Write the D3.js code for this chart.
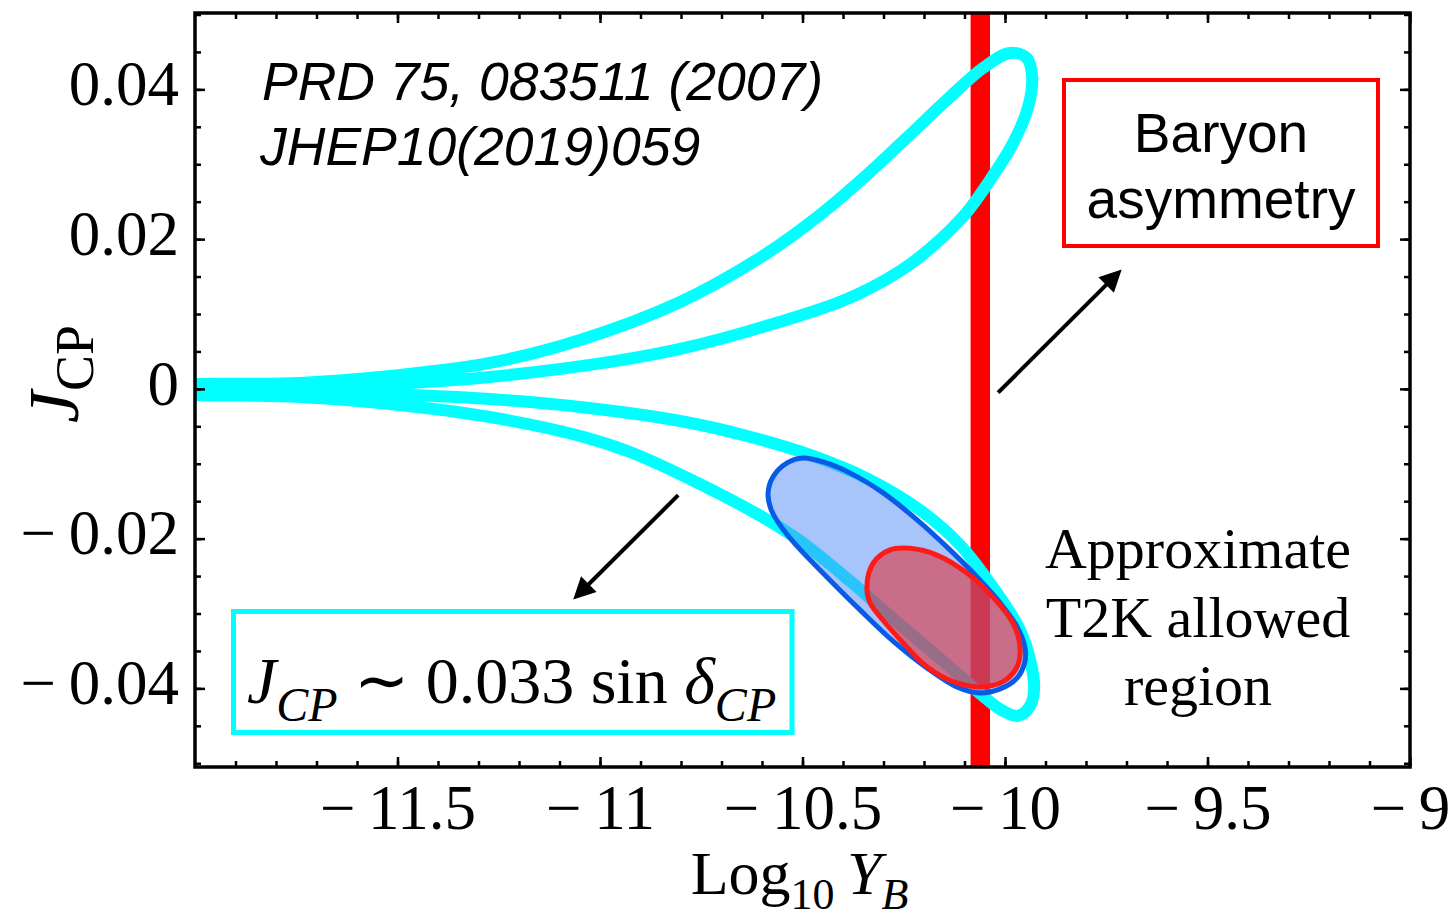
<!DOCTYPE html>
<html><head><meta charset="utf-8">
<script src="https://cdn.jsdelivr.net/npm/d3@7"></script>
<style>html,body{margin:0;padding:0;background:#fff;} svg{display:block;}</style>
</head><body><svg id="chart" width="1448" height="918"></svg>
<script>
// ---------------- data ----------------
const xMajorTicks = [-11.5, -11, -10.5, -10, -9.5, -9];
const xTickLabels = ["\u2212\u200911.5", "\u2212\u200911", "\u2212\u200910.5", "\u2212\u200910", "\u2212\u20099.5", "\u2212\u20099"];
const yMajorTicks = [-0.04, -0.02, 0, 0.02, 0.04];
const yTickLabels = ["\u2212\u20090.04", "\u2212\u20090.02", "0", "0.02", "0.04"];

// cyan contour (log10 Y_B, J_CP), upper lobe (J>0)
const upperLobe = [
  [-12.25, 0.0003], [-12.000, 0.00065], [-11.741, 0.00079], [-11.519, 0.00172], [-11.272, 0.00346],
  [-11.049, 0.00653], [-10.802, 0.01161], [-10.598, 0.01775], [-10.457, 0.02323], [-10.351, 0.02810],
  [-10.247, 0.03331], [-10.136, 0.03898], [-10.054, 0.04286], [-9.988, 0.04486], [-9.946, 0.04419],
  [-9.933, 0.04165], [-9.943, 0.03764], [-9.980, 0.03283], [-10.037, 0.02789], [-10.094, 0.02361],
  [-10.178, 0.01907], [-10.259, 0.01575], [-10.390, 0.01201], [-10.598, 0.00827], [-10.802, 0.00533],
  [-10.975, 0.00360], [-11.272, 0.00159], [-11.519, 0.00065], [-11.741, 0.00025], [-12.000, 0.00012]
];
// cyan contour, lower lobe (J<0)
const lowerLobe = [
  [-12.25, -0.0003], [-12.000, -0.00008], [-11.741, -0.00028], [-11.519, -0.00068], [-11.272, -0.00135],
  [-11.049, -0.00242], [-10.802, -0.00429], [-10.637, -0.00629], [-10.474, -0.00896], [-10.333, -0.01217],
  [-10.210, -0.01618], [-10.111, -0.02085], [-10.025, -0.02686], [-9.963, -0.03220], [-9.938, -0.03621],
  [-9.928, -0.03994], [-9.938, -0.04234], [-9.968, -0.04368], [-10.005, -0.04301], [-10.049, -0.04127],
  [-10.111, -0.03834], [-10.168, -0.03567], [-10.284, -0.03033], [-10.383, -0.02565], [-10.506, -0.02031],
  [-10.612, -0.01671], [-10.778, -0.01204], [-10.926, -0.00843], [-11.049, -0.00629], [-11.272, -0.00376],
  [-11.519, -0.00202], [-11.741, -0.00108], [-12.000, -0.00081]
];
// blue region outline
const blueRegion = [
  [-10.585, -0.01389], [-10.573, -0.01176], [-10.538, -0.00989], [-10.499, -0.00923], [-10.449, -0.00976],
  [-10.383, -0.01122], [-10.301, -0.01389], [-10.217, -0.01750], [-10.136, -0.02150], [-10.069, -0.02511],
  [-10.012, -0.02858], [-9.970, -0.03178], [-9.951, -0.03446], [-9.951, -0.03646], [-9.970, -0.03860],
  [-10.012, -0.04007], [-10.062, -0.04061], [-10.119, -0.03981], [-10.193, -0.03727], [-10.277, -0.03366],
  [-10.358, -0.02952], [-10.440, -0.02511], [-10.514, -0.02098], [-10.556, -0.01817], [-10.578, -0.01604]
];
// approximate T2K allowed region outline (red)
const t2kRegion = [
  [-10.341, -0.0265], [-10.326, -0.0233], [-10.284, -0.0215], [-10.235, -0.0213], [-10.168, -0.0222],
  [-10.094, -0.0246], [-10.030, -0.0278], [-9.980, -0.0313], [-9.963, -0.0345], [-9.970, -0.0371],
  [-10.005, -0.0391], [-10.062, -0.0398], [-10.128, -0.0391], [-10.193, -0.0371], [-10.252, -0.0339],
  [-10.301, -0.0309], [-10.333, -0.0286]
];
// observed baryon asymmetry band (log10 Y_B)
const baryonBand = [-10.085, -10.037];
// annotation arrows [from, to] in data units
const arrowBaryon = [[-10.017, -0.0005], [-9.709, 0.0161]];
const arrowJcp = [[-10.807, -0.0142], [-11.069, -0.0283]];

// ---------------- layout ----------------
const M = {left: 195, right: 1410, top: 13, bottom: 767};
const serif = "'Liberation Serif','Times New Roman',serif";
const sans = "'Liberation Sans',Arial,Helvetica,sans-serif";

const x = d3.scaleLinear().domain([-12, -9]).range([M.left, M.right]);
const y = d3.scaleLinear().domain([-0.0505, 0.0502]).range([M.bottom, M.top]);

const svg = d3.select('#chart');
const defs = svg.append('defs');
defs.append('clipPath').attr('id', 'clip').append('rect')
  .attr('x', M.left).attr('y', M.top).attr('width', M.right - M.left).attr('height', M.bottom - M.top);
defs.append('marker').attr('id', 'ah').attr('viewBox', '0 0 10 10')
  .attr('markerUnits', 'userSpaceOnUse').attr('markerWidth', 26).attr('markerHeight', 22)
  .attr('refX', 6.2).attr('refY', 5).attr('orient', 'auto')
  .append('path').attr('d', 'M0,0 L10,5 L0,10 z').attr('fill', '#000');

svg.append('rect').attr('width', 1448).attr('height', 918).attr('fill', '#fff');

const plot = svg.append('g').attr('clip-path', 'url(#clip)');

plot.append('rect')
  .attr('x', x(baryonBand[0])).attr('width', x(baryonBand[1]) - x(baryonBand[0]))
  .attr('y', M.top).attr('height', M.bottom - M.top).attr('fill', '#ff0000');

const line = d3.line().x(d => x(d[0])).y(d => y(d[1])).curve(d3.curveCatmullRomClosed.alpha(0.5));

[upperLobe, lowerLobe].forEach(l => {
  plot.append('path').attr('d', line(l)).attr('fill', 'none')
    .attr('stroke', '#00ffff').attr('stroke-width', 12).attr('stroke-linejoin', 'round');
});
plot.append('path').attr('d', line(blueRegion))
  .attr('fill', 'rgba(80,140,245,0.5)').attr('stroke', '#0a5ae8').attr('stroke-width', 5);
plot.append('path').attr('d', line(t2kRegion))
  .attr('fill', 'rgba(225,50,60,0.6)').attr('stroke', '#ff1a1a').attr('stroke-width', 5);

// ---------------- axes ----------------
const xMinor = d3.range(-11.9, -9.05, 0.1).map(v => +v.toFixed(2));
const yMinor = d3.range(-0.05, 0.0501, 0.005).map(v => +v.toFixed(3));

function styleAxis(g) {
  g.select('.domain').remove();
  g.selectAll('.tick line').attr('stroke', '#000').attr('stroke-width', 2.5);
  g.selectAll('.tick text').attr('fill', '#000').attr('font-family', serif).attr('font-size', 63);
}
svg.append('g').attr('transform', `translate(0,${M.bottom})`)
  .call(d3.axisBottom(x).tickValues(xMajorTicks).tickFormat((d, i) => xTickLabels[i]).tickSize(-10).tickSizeOuter(0).tickPadding(17))
  .call(styleAxis);
svg.append('g').attr('transform', `translate(0,${M.bottom})`)
  .call(d3.axisBottom(x).tickValues(xMinor).tickFormat('').tickSize(-6).tickSizeOuter(0)).call(styleAxis);
svg.append('g').attr('transform', `translate(0,${M.top})`)
  .call(d3.axisTop(x).tickValues(xMajorTicks).tickFormat('').tickSize(-10).tickSizeOuter(0)).call(styleAxis);
svg.append('g').attr('transform', `translate(0,${M.top})`)
  .call(d3.axisTop(x).tickValues(xMinor).tickFormat('').tickSize(-6).tickSizeOuter(0)).call(styleAxis);
const yl = svg.append('g').attr('transform', `translate(${M.left},0)`)
  .call(d3.axisLeft(y).tickValues(yMajorTicks).tickFormat((d, i) => yTickLabels[i]).tickSize(-10).tickSizeOuter(0).tickPadding(16))
  .call(styleAxis);
yl.selectAll('.tick text').attr('dy', '0.24em');
svg.append('g').attr('transform', `translate(${M.left},0)`)
  .call(d3.axisLeft(y).tickValues(yMinor).tickFormat('').tickSize(-6).tickSizeOuter(0)).call(styleAxis);
svg.append('g').attr('transform', `translate(${M.right},0)`)
  .call(d3.axisRight(y).tickValues(yMajorTicks).tickFormat('').tickSize(-10).tickSizeOuter(0)).call(styleAxis);
svg.append('g').attr('transform', `translate(${M.right},0)`)
  .call(d3.axisRight(y).tickValues(yMinor).tickFormat('').tickSize(-6).tickSizeOuter(0)).call(styleAxis);

svg.append('rect').attr('x', M.left).attr('y', M.top).attr('width', M.right - M.left).attr('height', M.bottom - M.top)
  .attr('fill', 'none').attr('stroke', '#000').attr('stroke-width', 3.5);

// axis titles
const xt = svg.append('text').attr('x', (M.left + M.right) / 2 - 3).attr('y', 894)
  .attr('text-anchor', 'middle').attr('font-family', serif).attr('font-size', 62).attr('fill', '#000');
xt.append('tspan').text('Log');
xt.append('tspan').attr('font-size', 44).attr('dy', 15).text('10');
xt.append('tspan').attr('font-style', 'italic').attr('dy', -15).text('\u2009Y');
xt.append('tspan').attr('font-style', 'italic').attr('font-size', 44).attr('dy', 15).text('B');

const yt = svg.append('text').attr('transform', 'translate(78,374) rotate(-90)')
  .attr('text-anchor', 'middle').attr('font-family', serif).attr('font-size', 72).attr('fill', '#000');
yt.append('tspan').attr('font-style', 'italic').text('J');
yt.append('tspan').attr('font-size', 54).attr('dy', 15).text('CP');

// ---------------- annotations ----------------
const refs = svg.append('text').attr('font-family', sans).attr('font-style', 'italic').attr('font-size', 53.5).attr('fill', '#000');
refs.append('tspan').attr('x', 262).attr('y', 100).text('PRD 75, 083511 (2007)');
refs.append('tspan').attr('x', 260).attr('y', 165).text('JHEP10(2019)059');

svg.append('rect').attr('x', 1064).attr('y', 80).attr('width', 314).attr('height', 166)
  .attr('fill', '#fff').attr('stroke', '#ff0000').attr('stroke-width', 4);
const bt = svg.append('text').attr('font-family', sans).attr('font-size', 55).attr('text-anchor', 'middle').attr('fill', '#000');
bt.append('tspan').attr('x', 1221).attr('y', 152).text('Baryon');
bt.append('tspan').attr('x', 1221).attr('y', 218).text('asymmetry');

function arrow(a) {
  const x0 = x(a[0][0]), y0 = y(a[0][1]), x1 = x(a[1][0]), y1 = y(a[1][1]);
  const L = Math.hypot(x1 - x0, y1 - y0), ux = (x1 - x0) / L, uy = (y1 - y0) / L;
  svg.append('line').attr('x1', x0).attr('y1', y0).attr('x2', x1 - 10 * ux).attr('y2', y1 - 10 * uy)
    .attr('stroke', '#000').attr('stroke-width', 4).attr('marker-end', 'url(#ah)');
}
arrow(arrowBaryon);
arrow(arrowJcp);

svg.append('rect').attr('x', 233.5).attr('y', 611.5).attr('width', 558.5).attr('height', 121)
  .attr('fill', 'none').attr('stroke', '#00ffff').attr('stroke-width', 5);
const ft = svg.append('text').attr('x', 247).attr('y', 703).attr('font-family', serif).attr('font-size', 66).attr('fill', '#000');
ft.append('tspan').attr('font-style', 'italic').text('J');
ft.append('tspan').attr('font-style', 'italic').attr('font-size', 48).attr('dy', 18).text('CP');
ft.append('tspan').attr('dy', -18).text(' \u223C 0.033 sin ');
ft.append('tspan').attr('font-style', 'italic').text('\u03B4');
ft.append('tspan').attr('font-style', 'italic').attr('font-size', 48).attr('dy', 18).text('CP');

const at = svg.append('text').attr('font-family', serif).attr('font-size', 58).attr('text-anchor', 'middle').attr('fill', '#000');
at.append('tspan').attr('x', 1198).attr('y', 568).text('Approximate');
at.append('tspan').attr('x', 1198).attr('y', 637).text('T2K allowed');
at.append('tspan').attr('x', 1198).attr('y', 705).text('region');
</script>
</body></html>
